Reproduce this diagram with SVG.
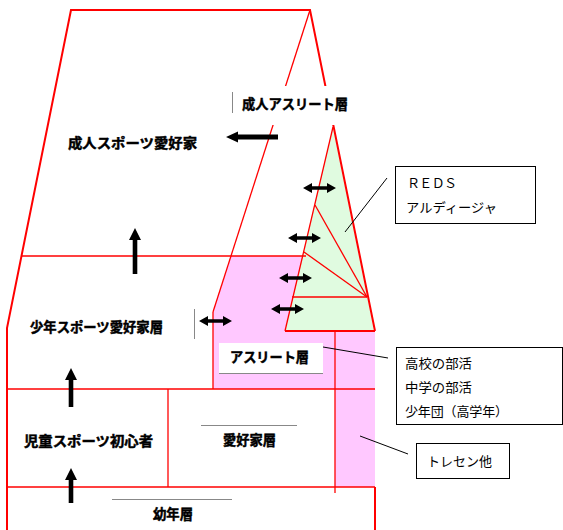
<svg xmlns="http://www.w3.org/2000/svg" xmlns:xlink="http://www.w3.org/1999/xlink" width="563" height="530" viewBox="0 0 563 530">
<style>
.r{fill:none;stroke:#ff0000;stroke-width:1.3}
.rb{fill:none;stroke:#ff0000;stroke-width:2}
.g{fill:none;stroke:#888888;stroke-width:1}
.k{fill:none;stroke:#000000;stroke-width:1}
.lbl{font-family:"Noto Sans CJK JP","Noto Sans CJK SC",sans-serif;font-weight:bold;font-size:13.5px;fill:#000000;stroke:#000000;stroke-width:0.45}
.txt{font-family:"Noto Sans CJK JP","Noto Sans CJK SC",sans-serif;font-size:13px;fill:#000000}
.box{fill:#ffffff;stroke:#000000;stroke-width:1}
.ar{fill:#000000;stroke:none}
</style>
<defs>
<path id="dbl" d="M0,0 L9,-5 L9,-1.8 L24,-1.8 L24,-5 L33,0 L24,5 L24,1.8 L9,1.8 L9,5 Z"/>
</defs>
<rect width="563" height="530" fill="#ffffff"/>
<g id="regions">
<polygon points="231,256 306,256 285,331 375,331 375,487 335,487 335,389 213,389 213,312" fill="#ffc8ff" stroke="none"/>
<polygon points="333,127 374,331 285,331" fill="#e0fbe0" stroke="none"/>
<polyline class="rb" points="7,530 7,328 71,10 310,10 375,331 375,331"/>
<line class="r" x1="310" y1="10" x2="213" y2="312"/>
<line class="r" x1="213" y1="312" x2="213" y2="389"/>
<line class="r" x1="22" y1="256" x2="306" y2="256"/>
<line class="r" x1="333" y1="127" x2="285" y2="331"/>
<line class="rb" x1="285" y1="331" x2="375" y2="331"/>
<line class="r" x1="367" y1="297" x2="315" y2="205"/>
<line class="r" x1="367" y1="297" x2="304" y2="252"/>
<line class="r" x1="367" y1="297" x2="292" y2="297"/>
<line class="r" x1="7" y1="389" x2="375" y2="389"/>
<line class="r" x1="168" y1="389" x2="168" y2="487"/>
<line class="r" x1="7" y1="487" x2="375" y2="487"/>
<line class="r" x1="335" y1="331" x2="335" y2="493"/>
<line class="rb" x1="375" y1="487" x2="375" y2="530"/>
</g>
<g id="node-seijin-athlete">
<rect x="233" y="86" width="119" height="39" fill="#ffffff"/>
<line class="g" x1="232.5" y1="92" x2="232.5" y2="113"/>
<text class="lbl" x="242" y="109" textLength="106" lengthAdjust="spacingAndGlyphs">成人アスリート層</text>
</g>
<g id="node-seijin-sports">
<text class="lbl" x="68" y="148" textLength="129" lengthAdjust="spacingAndGlyphs">成人スポーツ愛好家</text>
</g>
<g id="node-shonen-sports">
<line class="g" x1="194.5" y1="309" x2="194.5" y2="339"/>
<text class="lbl" x="30" y="332" textLength="133" lengthAdjust="spacingAndGlyphs">少年スポーツ愛好家層</text>
</g>
<g id="node-athlete">
<rect x="219" y="343" width="104" height="30" fill="#ffffff"/>
<line class="g" x1="219" y1="373.5" x2="323" y2="373.5"/>
<text class="lbl" x="230" y="362" textLength="79" lengthAdjust="spacingAndGlyphs">アスリート層</text>
</g>
<g id="node-jido">
<text class="lbl" x="24" y="446" textLength="129" lengthAdjust="spacingAndGlyphs">児童スポーツ初心者</text>
</g>
<g id="node-aikoka">
<line class="g" x1="201" y1="425.5" x2="297" y2="425.5"/>
<text class="lbl" x="223" y="445" textLength="53" lengthAdjust="spacingAndGlyphs">愛好家層</text>
</g>
<g id="node-yonen">
<line class="g" x1="112" y1="499.5" x2="232" y2="499.5"/>
<text class="lbl" x="153" y="519" textLength="40" lengthAdjust="spacingAndGlyphs">幼年層</text>
</g>
<g id="node-reds">
<rect class="box" x="395.5" y="166.5" width="140" height="57"/>
<text class="txt" x="407" y="188" textLength="50" lengthAdjust="spacing">ＲＥＤＳ</text>
<text class="txt" x="406" y="212" textLength="91" lengthAdjust="spacingAndGlyphs">アルディージャ</text>
</g>
<g id="node-school">
<rect class="box" x="396.5" y="347.5" width="166" height="77"/>
<text class="txt" x="405" y="368" textLength="67" lengthAdjust="spacingAndGlyphs">高校の部活</text>
<text class="txt" x="405" y="392" textLength="67" lengthAdjust="spacingAndGlyphs">中学の部活</text>
<text class="txt" x="405" y="416" textLength="103" lengthAdjust="spacing">少年団（高学年）</text>
</g>
<g id="node-tresen">
<rect class="box" x="416.5" y="443.5" width="93" height="35"/>
<text class="txt" x="427" y="466" textLength="65" lengthAdjust="spacingAndGlyphs">トレセン他</text>
</g>
<g id="connectors">
<path class="ar" d="M226,137 L238,131.5 L238,134.5 L278,134.5 L278,139.5 L238,139.5 L238,142.5 Z"/>
<path class="ar" d="M135,228 L141,240 L137.3,240 L137.3,274 L132.7,274 L132.7,240 L129,240 Z"/>
<path class="ar" d="M71,368 L77,380 L73.3,380 L73.3,407 L68.7,407 L68.7,380 L65,380 Z"/>
<path class="ar" d="M71,468 L77,480 L73.3,480 L73.3,503 L68.7,503 L68.7,480 L65,480 Z"/>
<use xlink:href="#dbl" class="ar" x="303" y="188"/>
<use xlink:href="#dbl" class="ar" x="288" y="238"/>
<use xlink:href="#dbl" class="ar" x="279" y="278"/>
<use xlink:href="#dbl" class="ar" x="271" y="309"/>
<use xlink:href="#dbl" class="ar" x="199" y="321"/>
<line class="k" x1="387" y1="178" x2="345" y2="232"/>
<line class="k" x1="388" y1="358" x2="323" y2="347"/>
<line class="k" x1="408" y1="454" x2="360" y2="436"/>
</g>
</svg>
